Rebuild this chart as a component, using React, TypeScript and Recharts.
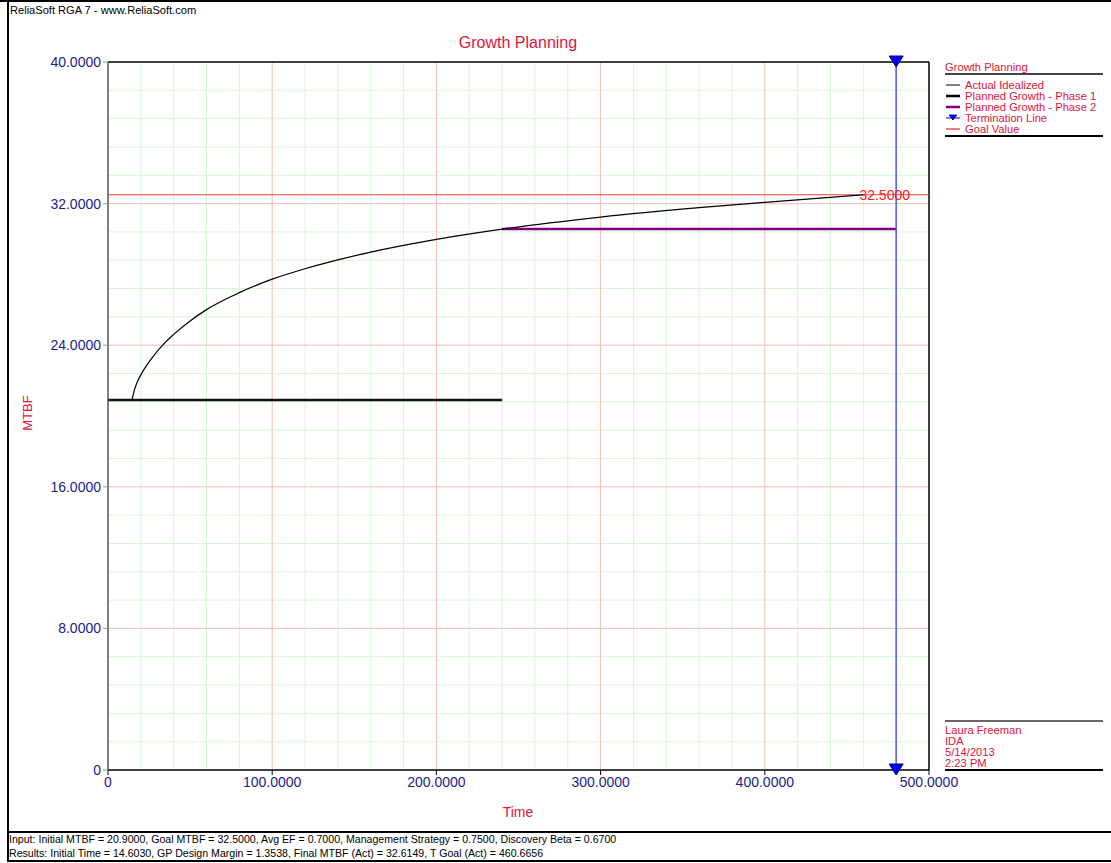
import { ComposedChart, Line, XAxis, YAxis, ReferenceLine, ReferenceDot } from "recharts";

const FONT = "'Liberation Sans', Arial, sans-serif";
const RED_TEXT = "#e0143c";
const NAVY = "#1c1c8c";

// axis ticks
const timeTicks = [0, 100, 200, 300, 400, 500];
const mtbfTicks = [0, 8, 16, 24, 32, 40];
const minorTime = [20, 40, 60, 80, 120, 140, 160, 180, 220, 240, 260, 280, 320, 340, 360, 380, 420, 440, 460, 480];
const minorMtbf = [1.6, 3.2, 4.8, 6.4, 9.6, 11.2, 12.8, 14.4, 17.6, 19.2, 20.8, 22.4, 25.6, 27.2, 28.8, 30.4, 33.6, 35.2, 36.8, 38.4];
const majorTimeLines = [100, 200, 300, 400];
const majorMtbfLines = [8, 16, 24, 32];

// series
const idealTime = [14.6, 16, 17.5, 20.5, 26.6, 34.7, 40, 50, 60, 80, 100, 120, 140, 160, 200, 240, 300, 360, 400, 460.67];
const idealMtbf = [20.9, 21.45, 21.85, 22.41, 23.26, 24.15, 24.61, 25.37, 26.01, 26.97, 27.73, 28.32, 28.82, 29.26, 29.98, 30.56, 31.24, 31.77, 32.07, 32.5];
const phase1Time = [0, 240];
const phase1Mtbf = [20.9, 20.9];
const phase2Time = [240, 480];
const phase2Mtbf = [30.56, 30.56];
const terminationTime = [480, 480];
const terminationMtbf = [0, 40];
const goalMtbf = 32.5;
const goalTime = 460.67;

const legendNames = ["Actual Idealized", "Planned Growth - Phase 1", "Planned Growth - Phase 2", "Termination Line", "Goal Value"];
const signature = ["Laura Freeman", "IDA", "5/14/2013", "2:23 PM"];
const inputLine = "Input: Initial MTBF = 20.9000, Goal MTBF = 32.5000, Avg EF = 0.7000, Management Strategy = 0.7500, Discovery Beta = 0.6700";
const resultsLine = "Results: Initial Time = 14.6030, GP Design Margin = 1.3538, Final MTBF (Act) = 32.6149, T Goal (Act) = 460.6656";

const toPoints = (ts: number[], ms: number[]) => ts.map((t, i) => ({ t, m: ms[i] }));

const idealData = toPoints(idealTime, idealMtbf);
const phase1Data = toPoints(phase1Time, phase1Mtbf);
const phase2Data = toPoints(phase2Time, phase2Mtbf);
const terminationData = toPoints(terminationTime, terminationMtbf);

const fmt = (v: number) => (v === 0 ? "0" : v.toFixed(4));

const Triangle = (props: any) => {
  const { cx, cy } = props;
  if (cx == null || cy == null) return null;
  return (
    <polygon
      key={`tri-${cx}-${cy}`}
      points={`${cx - 7},${cy - 6} ${cx + 7},${cy - 6} ${cx},${cy + 5}`}
      fill="#0000ff"
      stroke="#000066"
      strokeWidth={1}
    />
  );
};

const legendSwatch: Record<string, { color: string; width: number; tri?: boolean }> = {
  "Actual Idealized": { color: "#555", width: 1.5 },
  "Planned Growth - Phase 1": { color: "#000", width: 2.5 },
  "Planned Growth - Phase 2": { color: "#800080", width: 2.5 },
  "Termination Line": { color: "#4a5cf0", width: 1.5, tri: true },
  "Goal Value": { color: "#ff5050", width: 1.5 },
};

const abs = (x: number, y: number, extra: any = {}) => ({ position: "absolute" as const, left: x, top: y, ...extra });

const small = { fontSize: 11.2, lineHeight: "14px", whiteSpace: "nowrap" as const };
const footer = { fontSize: 10.6, lineHeight: "14px", whiteSpace: "nowrap" as const, color: "#000" };

export default function App() {
  return (
    <div style={{ position: "fixed", left: 0, top: 0, width: 1111, height: 863, fontFamily: FONT, background: "#fff", overflow: "hidden" }}>
      {/* frame */}
      <div style={abs(0, 0, { width: 1111, height: 2, background: "#000" })} />
      <div style={abs(7, 0, { width: 2, height: 862, background: "#000" })} />
      <div style={abs(7, 831, { width: 1104, height: 2, background: "#000" })} />
      <div style={abs(7, 860, { width: 1104, height: 2, background: "#000" })} />

      <div style={abs(10, 3, { ...small, fontSize: 11.1, color: "#000" })}>ReliaSoft RGA 7 - www.ReliaSoft.com</div>

      <div style={abs(0, 33, { width: 1036, textAlign: "center", fontSize: 16, lineHeight: "20px", color: RED_TEXT })}>Growth Planning</div>

      <div
        style={abs(28 - 30, 413 - 8, { width: 60, height: 16, textAlign: "center", fontSize: 13, lineHeight: "16px", color: RED_TEXT, transform: "rotate(-90deg)" })}
      >
        MTBF
      </div>

      <div style={abs(0, 803, { width: 1036, textAlign: "center", fontSize: 14, lineHeight: "18px", color: RED_TEXT })}>Time</div>

      <div style={abs(0, 0)}>
        <ComposedChart width={1111} height={863} margin={{ top: 62, right: 182, bottom: 63, left: 48 }}>
          <XAxis
            type="number"
            dataKey="t"
            domain={[0, 500]}
            ticks={timeTicks}
            tickFormatter={fmt}
            height={30}
            tick={{ fill: NAVY, fontSize: 14, fontFamily: FONT }}
            tickLine={{ stroke: "#000" }}
            tickSize={5}
            axisLine={{ stroke: "#000", strokeWidth: 1.5 }}
          />
          <YAxis
            type="number"
            dataKey="m"
            domain={[0, 40]}
            ticks={mtbfTicks}
            tickFormatter={fmt}
            width={60}
            tick={{ fill: NAVY, fontSize: 14, fontFamily: FONT }}
            tickLine={{ stroke: "#999" }}
            tickSize={5}
            axisLine={{ stroke: "#555", strokeWidth: 1.5 }}
          />

          {minorTime.map((v) => (
            <ReferenceLine key={`mx${v}`} x={v} stroke="#d6f7d6" strokeWidth={1} />
          ))}
          {minorMtbf.map((v) => (
            <ReferenceLine key={`my${v}`} y={v} stroke="#d6f7d6" strokeWidth={1} />
          ))}
          {majorTimeLines.map((v) => (
            <ReferenceLine key={`Mx${v}`} x={v} stroke="#f7bcb6" strokeWidth={1} />
          ))}
          {majorMtbfLines.map((v) => (
            <ReferenceLine key={`My${v}`} y={v} stroke="#f7bcb6" strokeWidth={1} />
          ))}
          <ReferenceLine y={40} stroke="#000" strokeWidth={1.5} />
          <ReferenceLine x={500} stroke="#000" strokeWidth={1.5} />

          <ReferenceLine y={goalMtbf} stroke="#f03c3c" strokeWidth={1} />

          <Line data={phase1Data} dataKey="m" stroke="#111" strokeWidth={2.5} dot={false} isAnimationActive={false} type="linear" />
          <Line data={phase2Data} dataKey="m" stroke="#800080" strokeWidth={2.5} dot={false} isAnimationActive={false} type="linear" />
          <Line data={idealData} dataKey="m" stroke="#000" strokeWidth={1.2} dot={false} isAnimationActive={false} type="monotone" />
          <Line
            data={terminationData}
            dataKey="m"
            stroke="#4a5cf0"
            strokeWidth={1.5}
            dot={Triangle}
            isAnimationActive={false}
            type="linear"
          />

          <ReferenceDot
            x={goalTime}
            y={goalMtbf}
            r={0}
            shape={(p: any) => (
              <text x={p.cx - 5} y={p.cy + 5} fill="#ff1a1a" fontSize={14} fontFamily={FONT}>
                {fmt(goalMtbf)}
              </text>
            )}
          />
        </ComposedChart>
      </div>

      {/* legend */}
      <div style={abs(945, 60, { ...small, color: RED_TEXT })}>Growth Planning</div>
      <div style={abs(945, 73, { width: 158, height: 2, background: "#444" })} />
      {legendNames.map((name, i) => {
        const s = legendSwatch[name];
        const cy = 85 + i * 11;
        return (
          <div key={name}>
            <svg style={abs(945, cy - 6)} width={16} height={12}>
              <line x1={1} x2={15} y1={6} y2={6} stroke={s.color} strokeWidth={s.width} />
              {s.tri && <polygon points="4,3 12,3 8,8" fill="#0000ff" stroke="#000066" strokeWidth={0.8} />}
            </svg>
            <div style={abs(965, cy - 7, { ...small, color: RED_TEXT })}>{name}</div>
          </div>
        );
      })}
      <div style={abs(945, 135, { width: 158, height: 1.5, background: "#000" })} />

      {/* signature */}
      <div style={abs(945, 720, { width: 158, height: 1.5, background: "#666" })} />
      {signature.map((s, i) => (
        <div key={s} style={abs(945, 723 + i * 11, { ...small, color: RED_TEXT })}>
          {s}
        </div>
      ))}
      <div style={abs(945, 769, { width: 158, height: 1.5, background: "#000" })} />

      {/* footer */}
      <div style={abs(9, 832, footer)}>{inputLine}</div>
      <div style={abs(9, 846, footer)}>{resultsLine}</div>
    </div>
  );
}
